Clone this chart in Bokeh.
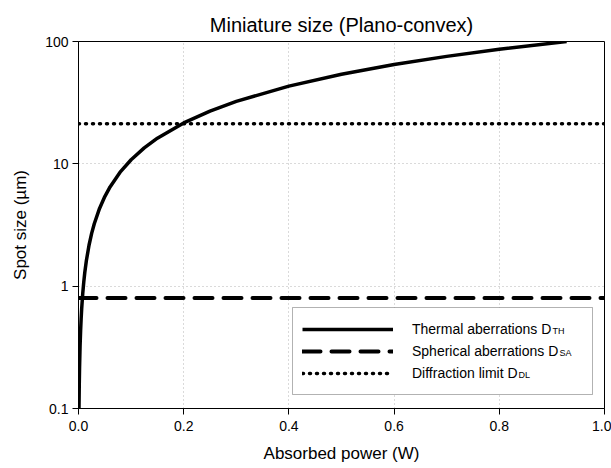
from bokeh.plotting import figure
from bokeh.models import Range1d, FixedTicker, Legend, LegendItem, Label, BoxAnnotation
from bokeh.embed import file_html
from bokeh.resources import INLINE

# Data
power_w = [0.0009, 0.0015, 0.002, 0.003, 0.004, 0.005, 0.006, 0.008, 0.010, 0.012,
           0.015, 0.020, 0.025, 0.030, 0.040, 0.050, 0.060, 0.080, 0.100, 0.125,
           0.150, 0.200, 0.250, 0.300, 0.400, 0.500, 0.600, 0.700, 0.800, 0.928]
thermal_um = [0.1, 0.162, 0.216, 0.324, 0.432, 0.54, 0.648, 0.864, 1.08, 1.3,
              1.62, 2.16, 2.7, 3.24, 4.32, 5.4, 6.48, 8.64, 10.8, 13.5,
              16.2, 21.6, 27.0, 32.4, 43.2, 54.0, 64.8, 75.6, 86.4, 100.0]
limit_x = [0.0, 1.0]
spherical_um = [0.8, 0.8]
diffraction_um = [21.3, 21.3]

x_ticks = [0.0, 0.2, 0.4, 0.6, 0.8, 1.0]
x_tick_labels = ["0.0", "0.2", "0.4", "0.6", "0.8", "1.0"]
y_ticks = [0.1, 1, 10, 100]
y_tick_labels = ["0.1", "1", "10", "100"]

legend_labels = ["Thermal aberrations D", "Spherical aberrations D", "Diffraction limit D"]
legend_subs = ["TH", "SA", "DL"]

FONT = "Liberation Sans"

p = figure(width=611, height=468, x_range=Range1d(0, 1.0), y_range=Range1d(0.1, 100),
           y_axis_type="log", output_backend="svg", toolbar_location=None,
           min_border_left=78, min_border_right=7, min_border_top=41, min_border_bottom=60,
           title="Miniature size (Plano-convex)")

p.title.align = "center"
p.title.text_font = FONT
p.title.text_font_size = "20px"
p.title.text_font_style = "normal"
p.title.text_color = "black"
p.title.offset = 0
p.title.standoff = 11

p.outline_line_color = "black"
p.outline_line_width = 1
p.background_fill_color = "white"
p.border_fill_color = "white"

p.xaxis.ticker = FixedTicker(ticks=x_ticks)
p.xaxis.major_label_overrides = dict(zip(x_ticks, x_tick_labels))
p.yaxis.ticker = FixedTicker(ticks=y_ticks)
p.yaxis.major_label_overrides = dict(zip(y_ticks, y_tick_labels))

for ax in (p.xaxis[0], p.yaxis[0]):
    ax.axis_line_color = "black"
    ax.major_tick_line_color = "black"
    ax.major_tick_out = 6
    ax.major_tick_in = 0
    ax.minor_tick_line_color = None
    ax.major_label_text_font = FONT
    ax.major_label_text_font_size = "14px"
    ax.major_label_text_color = "black"
    ax.axis_label_text_font = FONT
    ax.axis_label_text_font_size = "17px"
    ax.axis_label_text_font_style = "normal"
    ax.axis_label_text_color = "black"

p.xaxis.axis_label = "Absorbed power (W)"
p.yaxis.axis_label = "Spot size (µm)"
p.xaxis.major_label_standoff = 6
p.yaxis.major_label_standoff = 4
p.xaxis.axis_label_standoff = 10
p.yaxis.axis_label_standoff = 12

p.xgrid.ticker = FixedTicker(ticks=[0.2, 0.4, 0.6, 0.8])
p.ygrid.ticker = FixedTicker(ticks=[1, 10])
for g in (p.xgrid[0], p.ygrid[0]):
    g.grid_line_color = "#b4b4b4"
    g.grid_line_dash = "1 3"
    g.grid_line_width = 1

r_th = p.line(power_w, thermal_um, line_color="black", line_width=3.5)
r_sa = p.line(limit_x, spherical_um, line_color="black", line_width=4,
              line_dash="18 11", line_cap="round")
r_dl = p.line(limit_x, diffraction_um, line_color="black", line_width=3.5,
              line_dash="1 6", line_cap="round")

# legend frame (screen units, relative to the plot frame)
p.add_layout(BoxAnnotation(left=214, right=514, bottom=14, top=101,
                           left_units="screen", right_units="screen",
                           bottom_units="screen", top_units="screen",
                           fill_color="white", fill_alpha=1,
                           line_color="black", line_width=1, level="annotation"))

legend = Legend(items=[LegendItem(label=legend_labels[0], renderers=[r_th]),
                       LegendItem(label=legend_labels[1], renderers=[r_sa]),
                       LegendItem(label=legend_labels[2], renderers=[r_dl])],
                location=(214, 14), orientation="vertical",
                glyph_width=91, glyph_height=22, label_height=22, label_width=169,
                label_standoff=19, spacing=0, padding=10, margin=0,
                border_line_color="black", border_line_alpha=0,
                background_fill_alpha=0,
                label_text_font=FONT, label_text_font_size="14px", label_text_color="black")
p.add_layout(legend, "center")

# subscripts for the legend labels
sub_x = [474, 481, 440]
sub_y = [73, 51, 29]
for t, sx, sy in zip(legend_subs, sub_x, sub_y):
    p.add_layout(Label(x=sx, y=sy, x_units="screen", y_units="screen", text=t,
                       text_font=FONT, text_font_size="9px", text_color="black",
                       text_baseline="bottom", level="overlay"))

open("out.html", "w").write(file_html(p, INLINE))
